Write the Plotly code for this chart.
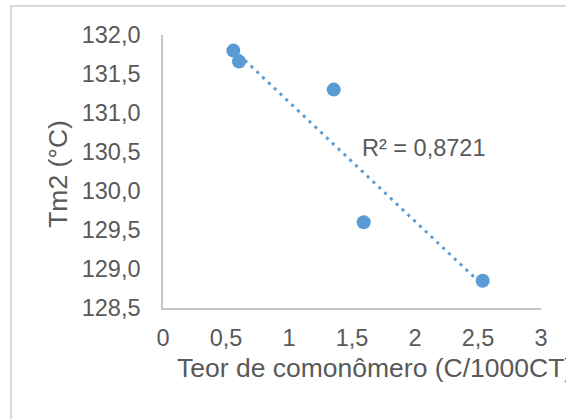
import plotly.graph_objects as go

# Comonomer content vs. second melting temperature
comonomer = [0.558, 0.603, 1.355, 1.593, 2.537]
tm2 = [131.80, 131.66, 131.30, 129.60, 128.85]

# Linear trendline endpoints (as reported with R² = 0,8721)
trend_x = [0.558, 2.537]
trend_y = [131.817, 128.792]
r2_label = "R² = 0,8721"

x_ticks = [0, 0.5, 1, 1.5, 2, 2.5, 3]
x_ticktext = ["0", "0,5", "1", "1,5", "2", "2,5", "3"]
y_ticks = [128.5, 129.0, 129.5, 130.0, 130.5, 131.0, 131.5, 132.0]
y_ticktext = ["128,5", "129,0", "129,5", "130,0", "130,5", "131,0", "131,5", "132,0"]

blue = "#5b9bd5"
text_grey = "#595959"
font_family = "Liberation Sans, Arial, sans-serif"

fig = go.Figure()

fig.add_trace(go.Scatter(
    x=trend_x, y=trend_y, mode="lines",
    line=dict(color=blue, width=3, dash="3px,5px"),
    hoverinfo="skip", showlegend=False,
))

fig.add_trace(go.Scatter(
    x=comonomer, y=tm2, mode="markers",
    marker=dict(color=blue, size=14, line=dict(width=0)),
    showlegend=False,
))

fig.update_xaxes(
    range=[0, 3], tickvals=x_ticks, ticktext=x_ticktext,
    showgrid=False, zeroline=False, showline=True,
    linecolor="#c6c6c6", linewidth=1.5, ticks="",
    ticklabelstandoff=8,
    tickfont=dict(family=font_family, size=23.5, color=text_grey),
)
fig.update_yaxes(
    range=[128.5, 132.0], tickvals=y_ticks, ticktext=y_ticktext,
    showgrid=False, zeroline=False, showline=True,
    linecolor="#c6c6c6", linewidth=1.5, ticks="",
    ticklabelstandoff=16,
    tickfont=dict(family=font_family, size=23.5, color=text_grey),
)

fig.add_annotation(
    x=2.071, y=130.55, xref="x", yref="y", text=r2_label, showarrow=False,
    xanchor="center", yanchor="middle",
    font=dict(family=font_family, size=23.5, color=text_grey),
)
fig.add_annotation(
    x=0.0317, y=-0.22, xref="paper", yref="paper",
    text="Teor de comonômero (C/1000CT)", showarrow=False,
    xanchor="left", yanchor="middle",
    font=dict(family=font_family, size=26.5, color=text_grey),
)
fig.add_annotation(
    x=-0.278, y=0.491, xref="paper", yref="paper",
    text="Tm2 (°C)", showarrow=False, textangle=-90,
    xanchor="center", yanchor="middle",
    font=dict(family=font_family, size=26.5, color=text_grey),
)

# Chart-area border
fig.add_shape(
    type="rect", xref="paper", yref="paper",
    x0=-0.402, x1=1.3, y0=-0.6, y1=1.106,
    line=dict(color="#d9d9d9", width=2), fillcolor="rgba(0,0,0,0)",
    layer="below",
)

fig.update_layout(
    width=566, height=419, autosize=False,
    margin=dict(l=163, r=25, t=35, b=111),
    paper_bgcolor="white", plot_bgcolor="white",
    showlegend=False,
)

fig.write_html("out.html")
